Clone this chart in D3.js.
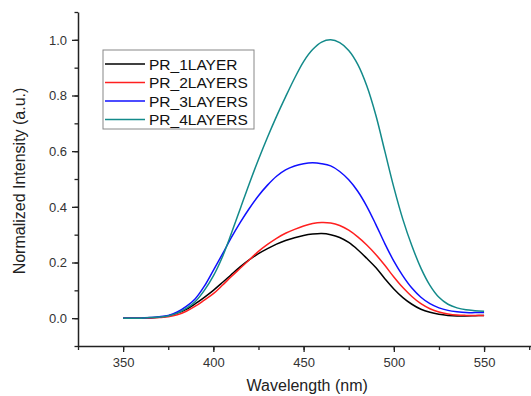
<!DOCTYPE html>
<html>
<head>
<meta charset="utf-8">
<script src="https://cdn.jsdelivr.net/npm/d3@7"></script>
<style>
  body { margin: 0; background: #fff; }
  svg { font-family: "Liberation Sans", Arial, sans-serif; }
</style>
</head>
<body>
<div id="chart"></div>
<script>
// wavelengths (nm), one sample every 5 nm
const wavelengths = d3.range(350, 551, 5)

// normalized intensity
const pr1Layer = [0, 0, 0, 0.001, 0.003, 0.008, 0.018, 0.032, 0.052, 0.075,
    0.1, 0.128, 0.157, 0.185, 0.21, 0.232, 0.25, 0.266, 0.279, 0.289,
    0.297, 0.302, 0.304, 0.3, 0.29, 0.272, 0.246, 0.215, 0.182, 0.142,
    0.105, 0.074, 0.05, 0.032, 0.021, 0.014, 0.01, 0.008, 0.008, 0.009, 0.01]
const pr2Layers = [0, 0, 0, 0, 0.002, 0.005, 0.012, 0.025, 0.043, 0.065,
    0.088, 0.118, 0.15, 0.18, 0.21, 0.24, 0.265, 0.287, 0.305, 0.319,
    0.331, 0.34, 0.344, 0.342, 0.333, 0.316, 0.292, 0.263, 0.229, 0.19,
    0.148, 0.11, 0.078, 0.052, 0.034, 0.022, 0.015, 0.011, 0.01, 0.01, 0.01]
const pr3Layers = [0, 0, 0, 0.002, 0.005, 0.01, 0.022, 0.042, 0.07, 0.115,
    0.172, 0.23, 0.29, 0.345, 0.395, 0.44, 0.478, 0.51, 0.533, 0.547,
    0.555, 0.558, 0.555, 0.547, 0.527, 0.497, 0.456, 0.402, 0.337, 0.268,
    0.205, 0.152, 0.108, 0.075, 0.052, 0.037, 0.028, 0.023, 0.02, 0.02, 0.02]
const pr4Layers = [0, 0, 0, 0.002, 0.004, 0.008, 0.018, 0.035, 0.06, 0.1,
    0.152, 0.22, 0.305, 0.395, 0.485, 0.57, 0.65, 0.725, 0.795, 0.862,
    0.922, 0.965, 0.992, 1.0, 0.99, 0.962, 0.912, 0.835, 0.73, 0.6,
    0.47, 0.355, 0.26, 0.18, 0.118, 0.075, 0.05, 0.037, 0.03, 0.027, 0.025]

const seriesNames = ["PR_1LAYER", "PR_2LAYERS", "PR_3LAYERS", "PR_4LAYERS"]
const seriesValues = [pr1Layer, pr2Layers, pr3Layers, pr4Layers]
const seriesColors = ["#000000", "#ff2020", "#1010ff", "#138a8a"]

const xTicks = [350, 400, 450, 500, 550]
const yTicks = [0.0, 0.2, 0.4, 0.6, 0.8, 1.0]

// dimensions
const W = 531, H = 396
const margin = { top: 12, right: 0, bottom: 50, left: 78 }
const width = W - margin.left - margin.right
const height = H - margin.top - margin.bottom

const svg = d3.select("#chart").append("svg")
    .attr("width", W)
    .attr("height", H)
const g = svg.append("g")
    .attr("transform", "translate(" + margin.left + "," + margin.top + ")")

const x = d3.scaleLinear().domain([325, 576]).range([0, width])
const y = d3.scaleLinear().domain([-0.1, 1.1]).range([height, 0])

// minor ticks
g.append("g")
    .attr("transform", "translate(0," + height + ")")
    .call(d3.axisBottom(x).tickValues(d3.range(325, 577, 25)).tickSize(4).tickFormat(""))
    .call(a => a.select(".domain").remove())
g.append("g")
    .call(d3.axisLeft(y).tickValues(d3.range(-0.1, 1.11, 0.1)).tickSize(3.5).tickFormat(""))
    .call(a => a.select(".domain").remove())

// major axes
g.append("g")
    .attr("transform", "translate(0," + height + ")")
    .call(d3.axisBottom(x).tickValues(xTicks).tickSize(6).tickPadding(6).tickSizeOuter(0))
g.append("g")
    .call(d3.axisLeft(y).tickValues(yTicks).tickSize(6).tickPadding(5)
        .tickFormat(d3.format(".1f")).tickSizeOuter(0))

g.selectAll(".tick line").style("stroke", "#222").style("stroke-width", 1.3)
g.selectAll(".domain").style("stroke", "#222").style("stroke-width", 1.5)
g.selectAll(".tick text").style("font-size", "13px").style("fill", "#333")
    .style("font-family", "Liberation Sans, Arial, sans-serif")

// curves
const line = d3.line()
    .x((d, i) => x(wavelengths[i]))
    .y(d => y(d))
    .curve(d3.curveCatmullRom)

seriesValues.forEach(function (vals, k) {
    g.append("path")
        .datum(vals)
        .attr("fill", "none")
        .attr("stroke", seriesColors[k])
        .attr("stroke-width", 1.5)
        .attr("d", line)
})

// axis titles
svg.append("text")
    .attr("x", margin.left + x(452))
    .attr("y", 391)
    .attr("text-anchor", "middle")
    .style("font-size", "16px")
    .style("fill", "#222")
    .text("Wavelength (nm)")
svg.append("text")
    .attr("transform", "translate(25,181) rotate(-90)")
    .attr("text-anchor", "middle")
    .style("font-size", "16px")
    .style("fill", "#222")
    .text("Normalized Intensity (a.u.)")

// legend
const legend = svg.append("g").attr("transform", "translate(103,50)")
legend.append("rect")
    .attr("width", 151)
    .attr("height", 79)
    .attr("fill", "#fff")
    .attr("stroke", "#888")
    .attr("stroke-width", 1)
seriesNames.forEach(function (name, k) {
    const ly = 14 + k * 18.5
    legend.append("line")
        .attr("x1", 2).attr("x2", 42)
        .attr("y1", ly).attr("y2", ly)
        .attr("stroke", seriesColors[k])
        .attr("stroke-width", 1.5)
    legend.append("text")
        .attr("x", 46)
        .attr("y", ly + 5.5)
        .style("font-size", "15.5px")
        .style("fill", "#111")
        .text(name)
})
</script>
</body>
</html>
